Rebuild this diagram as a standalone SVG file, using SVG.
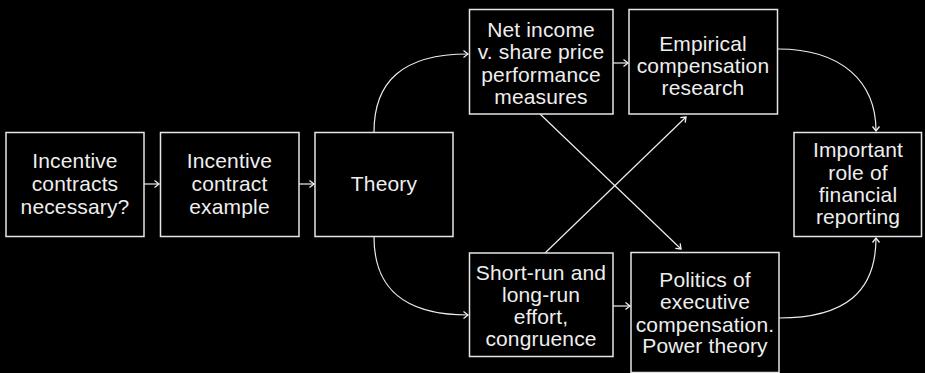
<svg xmlns="http://www.w3.org/2000/svg" width="925" height="373" viewBox="0 0 925 373">
<defs>
<marker id="ah" markerWidth="10" markerHeight="10" refX="7" refY="5" orient="auto" markerUnits="userSpaceOnUse">
<polyline points="2.5,1.5 7,5 2.5,8.5" fill="none" stroke="#eeeeee" stroke-width="1.3"/>
</marker>
<style>
.box{fill:#000;stroke:#e6e6e6;stroke-width:1.5}
.t{font-family:"Liberation Sans",Arial,sans-serif;font-size:21px;letter-spacing:0.15px;fill:#eeeeee;text-anchor:middle}
.c{fill:none;stroke:#eeeeee;stroke-width:1.2;marker-end:url(#ah)}
</style>
</defs>
<rect width="925" height="373" fill="#000"/>
<g id="connectors">
<path class="c" d="M144,184 H159"/>
<path class="c" d="M299,184 H314"/>
<path class="c" d="M374,132 C374,82 402,54 468,54"/>
<path class="c" d="M374,237 C374,287 402,315 468,315"/>
<path class="c" d="M613,63 H628"/>
<path class="c" d="M613,306 H630"/>
<path class="c" d="M540,114 L681,249"/>
<path class="c" d="M545,253 L686,117"/>
<path class="c" d="M778,49 C842,49 876,82 876,131"/>
<path class="c" d="M779,318 C845,318 876,292 876,238"/>
</g>
<g id="n1"><rect class="box" x="6" y="132.5" width="138" height="104"/>
<text class="t" x="75" y="168">Incentive</text><text class="t" x="75" y="191">contracts</text><text class="t" x="75" y="213.5">necessary?</text></g>
<g id="n2"><rect class="box" x="160.5" y="132.5" width="138.5" height="104"/>
<text class="t" x="229.5" y="168">Incentive</text><text class="t" x="229.5" y="191">contract</text><text class="t" x="229.5" y="213.5">example</text></g>
<g id="n3"><rect class="box" x="315" y="132.5" width="138" height="104"/>
<text class="t" x="384" y="191">Theory</text></g>
<g id="n4"><rect class="box" x="469.5" y="9.5" width="143.5" height="104.5"/>
<text class="t" x="541" y="36.5">Net income</text><text class="t" x="541" y="59">v. share price</text><text class="t" x="541" y="81.5">performance</text><text class="t" x="541" y="104">measures</text></g>
<g id="n5"><rect class="box" x="629" y="9.5" width="148.5" height="104.5"/>
<text class="t" x="703" y="50.5">Empirical</text><text class="t" x="703" y="72.5">compensation</text><text class="t" x="703" y="94.5">research</text></g>
<g id="n6"><rect class="box" x="469.5" y="253" width="143.5" height="103.5"/>
<text class="t" x="541" y="279.5">Short-run and</text><text class="t" x="541" y="301.5">long-run</text><text class="t" x="541" y="324">effort,</text><text class="t" x="541" y="346">congruence</text></g>
<g id="n7"><rect class="box" x="631" y="252.5" width="148" height="120"/>
<text class="t" x="705" y="286.5">Politics of</text><text class="t" x="705" y="309">executive</text><text class="t" x="705" y="331.5">compensation.</text><text class="t" x="705" y="353">Power theory</text></g>
<g id="n8"><rect class="box" x="794" y="132.5" width="127.5" height="104"/>
<text class="t" x="858" y="156.5">Important</text><text class="t" x="858" y="179.5">role of</text><text class="t" x="858" y="201.5">financial</text><text class="t" x="858" y="223.5">reporting</text></g>
</svg>
